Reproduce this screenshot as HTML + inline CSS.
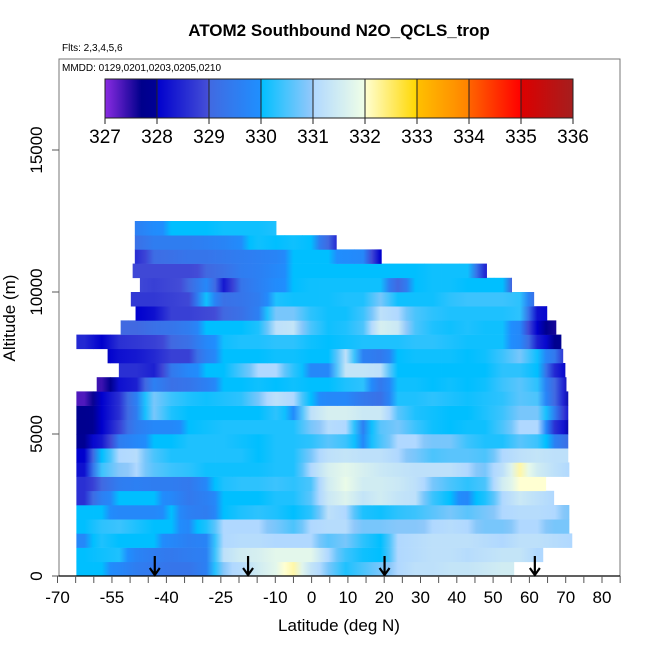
<!DOCTYPE html>
<html><head><meta charset="utf-8"><style>
body{margin:0;background:#fff;}
svg{display:block;font-family:"Liberation Sans",Arial,sans-serif;}
</style></head><body>
<svg id="chart" width="650" height="650" viewBox="0 0 650 650" xmlns="http://www.w3.org/2000/svg">
<defs id="defs"></defs>
<text x="339" y="36" text-anchor="middle" font-size="17" font-weight="bold">ATOM2 Southbound N2O_QCLS_trop</text>
<text x="62" y="51" font-size="10">Flts: 2,3,4,5,6</text>
<g id="heat"></g>
<g id="arrows"></g>
<rect x="59" y="59" width="561" height="517" fill="none" stroke="#777" stroke-width="1"/>
<text x="62" y="71" font-size="10">MMDD: 0129,0201,0203,0205,0210</text>
<g id="cbar"></g>
<g id="xaxis"></g>
<g id="yaxis"></g>
<text x="339" y="631" text-anchor="middle" font-size="17">Latitude (deg N)</text>
<text transform="translate(15,318) rotate(-90)" text-anchor="middle" font-size="17">Altitude (m)</text>
</svg>
<script>
const latBins = [-65,-60.2,-55.4,-50.6,-45.8,-41,-36.2,-31.4,-26.6,-21.8,-17,-12.2,-7.4,-2.6,2.2,7,11.8,16.6,21.4,26.2,31,35.8,40.6,45.4,50.2,55,59.8,64.6,69.4];
const binWidth = 4.8;
const altBase = [0,500,1000,1500,2000,2500,3000,3500,4000,4500,5000,5500,6000,6500,7000,7500,8000,8500,9000,9500,10000,10500,11000,11500,12000];
const altStep = 500;
const rowStart = [-64.8,-64.8,-64.8,-64.8,-64.8,-64.8,-64.8,-64.8,-64.8,-64.8,-64.8,-64.8,-64.8,-59.2,-53.1,-56.2,-64.8,-52.6,-48.5,-49.8,-47.3,-49.3,-48.7,-48.7,-48.7];
const rowEnd = [55.7,63.7,71.7,70.9,70.9,66.7,64.5,70.9,70.6,70.6,70.6,70.6,70.6,70.1,69.8,69.2,68.7,67.3,64.8,61.2,55.1,48.2,19.2,6.8,-9.8];
const r0 = [330,330,329.8,329.5,329.4,329.3,329.3,329.6,330.9,331.1,331.5,331.8,332.2,331.3,330.8,330.2,330.5,330.8,331.0,331.2,331.2,331.3,331.3,331.4,331.5,331.5,331.5,331.5,331.5];
const r1 = [330,330.1,330.2,329.7,329.5,329.4,329.5,329.6,331.2,331.5,331.6,331.8,331.8,331.8,331.0,330.4,330.1,330.0,331.0,331.1,331.2,331.2,331.1,331.2,331.3,331.3,331.0,331.0,331.0];
const r2 = [329.8,330.2,330.0,330.0,330.0,329.8,329.6,329.7,331.0,331.1,331.1,331.0,331.0,331.0,330.6,330.8,330.3,330.0,331.0,331.1,331.2,331.2,331.2,331.1,331.0,331.2,331.2,331.1,331.0];
const r3 = [330.0,330.3,330.4,330.2,330.0,330.0,329.8,330.2,331.0,331.0,331.0,330.8,330.5,331.0,331.1,331.1,330.8,330.8,330.9,330.9,331.0,331.1,331.0,330.8,330.8,331.0,331.0,330.8,330.8];
const r4 = [330.0,330.0,329.8,329.8,329.8,330.0,329.6,329.5,330.0,330.2,330.3,330.2,330.0,330.3,331.2,331.0,330.2,330.1,330.3,330.4,330.6,330.8,330.6,330.8,331.0,331.1,331.1,331.0,330.8];
const r5 = [328.6,329.6,330.0,330.0,330.0,329.8,329.4,329.6,330.0,330.0,330.0,330.2,330.2,330.6,331.4,331.7,331.3,331.5,331.3,331.2,330.4,330.0,329.8,330.2,331.0,331.4,331.2,331.0,331.0];
const r6 = [328.6,329.0,329.5,329.6,329.5,329.5,329.4,329.8,330.2,330.3,330.3,330.4,330.3,330.5,331.5,331.9,331.5,331.5,331.4,331.2,330.8,330.5,330.3,330.5,331.5,332.0,332.0,332.0,332.0];
const r7 = [328.2,330.4,330.9,331.0,330.6,330.4,330.3,330.1,330.1,330.1,330.1,330.2,330.2,331.0,331.6,331.8,331.6,331.4,331.3,331.2,331.2,331.2,331.0,330.8,331.2,332.2,331.5,331.2,331.0];
const r8 = [328.0,330.0,331.0,331.1,330.5,330.2,330.2,330.2,330.2,330.2,330.0,330.2,330.2,330.8,331.2,331.3,331.2,331.2,331.0,330.8,330.5,330.6,330.6,330.5,331.0,331.2,331.3,331.2,331.2];
const r9 = [327.9,328.3,329.5,329.8,330.0,330.0,330.2,330.2,330.2,330.1,330.0,330.2,330.2,330.3,330.6,330.4,329.8,330.5,331.0,331.0,330.8,330.8,330.4,330.2,330.2,330.6,330.4,329.6,329.0];
const r10 = [327.8,328.0,328.8,329.5,329.8,329.8,330.0,330.1,330.2,330.2,330.2,330.2,330.2,330.8,331.1,331.0,329.6,330.6,330.8,330.4,330.1,330.0,330.1,330.1,330.5,331.0,331.0,328.6,327.9];
const r11 = [327.8,328.0,328.6,329.5,330.8,330.2,330.0,330.0,330.0,330.0,330.0,330.3,329.9,331.2,331.6,331.6,331.4,331.4,330.6,330.2,330.1,330.0,330.0,330.2,330.4,330.8,330.8,329.5,328.0];
const r12 = [327.3,328.0,328.6,329.6,330.8,330.4,330.2,330.1,330.2,330.3,330.8,331.2,331.0,330.0,329.8,329.8,329.4,329.2,330.2,330.2,330.3,330.2,330.1,330.2,330.3,330.6,330.5,329.0,327.9];
const r13 = [327.4,327.4,328.2,328.4,329.6,329.2,329.3,329.6,330.0,330.0,330.1,330.0,330.1,330.0,330.0,330.2,330.3,329.4,330.1,330.1,330.0,330.1,330.0,330.1,330.4,330.6,330.3,329.0,327.9];
const r14 = [328.6,328.6,328.6,328.6,328.4,329.4,329.8,330.0,330.0,330.5,331.0,331.0,330.3,329.8,329.8,331.3,331.3,331.2,330.0,330.0,330.0,330.0,330.0,330.0,330.3,330.3,330.0,328.5,327.8];
const r15 = [327.9,327.9,328.2,328.3,328.5,328.8,328.8,329.6,330.0,330.0,330.0,330.1,330.1,330.0,330.0,331.2,329.6,329.4,330.0,330.1,330.1,330.1,330.0,330.1,330.4,330.8,330.1,329.4,328.0];
const r16 = [328.5,328.0,328.6,328.7,328.8,329.0,329.2,329.8,330.1,330.2,330.2,330.3,330.3,330.1,330.0,330.1,330.2,330.2,330.2,330.3,330.3,330.2,330.1,330.1,330.1,329.8,328.4,327.8,327.8];
const r17 = [329.0,329.0,329.0,329.0,329.2,329.3,329.5,330.0,330.0,330.0,330.2,331.2,331.3,330.5,330.1,330.2,330.5,331.6,331.4,330.5,330.2,330.1,330.2,330.1,330.1,329.8,328.0,327.6,327.5];
const r18 = [328.0,328.0,328.0,328.0,328.2,328.8,328.8,328.9,329.0,329.2,329.6,330.8,330.8,330.3,330.1,330.1,330.4,331.2,331.0,330.5,330.3,330.2,330.2,330.2,330.2,330.3,328.2,328.0,328.0];
const r19 = [328.7,328.7,328.7,328.7,328.7,328.8,328.9,330.1,329.2,329.3,329.5,330.2,330.1,330.1,330.1,330.2,330.2,330.8,330.1,330.1,330.1,330.3,330.4,330.4,330.4,330.3,329.0,329.0,329.0];
const r20 = [328.9,328.9,328.9,328.9,328.8,328.9,329.0,329.8,328.3,329.3,329.6,329.9,330.0,330.1,330.1,330.1,330.1,330.1,329.0,330.0,330.1,330.1,330.0,330.0,330.0,328.0,328.0,328.0,328.0];
const r21 = [328.9,328.9,328.9,328.9,328.9,328.9,328.9,329.0,329.2,329.5,329.6,329.8,330.0,330.0,330.0,330.0,330.0,330.0,330.0,330.0,330.1,330.1,330.1,328.5,328.5,328.5,328.5,328.5,328.5];
const r22 = [328.6,328.6,328.6,328.6,329.1,329.2,329.3,329.3,329.4,329.5,329.6,329.7,330.0,330.0,330.0,329.9,329.8,328.0,328.0,328.0,328.0,328.0,328.0,328.0,328.0,328.0,328.0,328.0,328.0];
const r23 = [329.2,329.2,329.2,329.2,329.5,329.5,329.5,329.6,329.7,329.9,330.1,330.0,330.1,330.0,329.0,328.0,328.0,328.0,328.0,328.0,328.0,328.0,328.0,328.0,328.0,328.0,328.0,328.0,328.0];
const r24 = [329.6,329.6,329.6,329.6,329.9,330.0,330.0,330.0,330.1,330.1,330.1,330.2,330.2,330.2,330.2,330.2,330.2,330.2,330.2,330.2,330.2,330.2,330.2,330.2,330.2,330.2,330.2,330.2,330.2];
const rows = [r0,r1,r2,r3,r4,r5,r6,r7,r8,r9,r10,r11,r12,r13,r14,r15,r16,r17,r18,r19,r20,r21,r22,r23,r24];
const arrowLats = [-43.2,-17.5,20.1,61.5];
const colorTicks = [327,328,329,330,331,332,333,334,335,336];
const xTickLabels = [-70,-55,-40,-25,-10,0,10,20,30,40,50,60,70,80];
const yTickLabels = [0,5000,10000,15000];

const NS = "http://www.w3.org/2000/svg";
const xs = lat => 311.6 + lat * 3.63;
const ys = alt => 576 - alt * 0.0284;
const stops = [
 [327,[138,43,226]],[327.7,[0,0,139]],[327.999,[0,0,150]],
 [328,[0,0,205]],[328.999,[70,80,215]],
 [329,[65,105,225]],[329.999,[30,144,255]],
 [330,[0,191,255]],[330.999,[150,200,250]],
 [331,[176,216,255]],[331.999,[240,255,230]],
 [332,[255,255,210]],[332.999,[255,215,0]],
 [333,[255,192,0]],[333.999,[255,130,0]],
 [334,[255,100,0]],[334.999,[255,0,0]],
 [335,[220,0,0]],[336,[165,30,30]]];
function col(v){
  if(v<=stops[0][0]) return 'rgb('+stops[0][1]+')';
  for(let i=1;i<stops.length;i++){
    if(v<=stops[i][0]){
      const a=stops[i-1],b=stops[i],t=(v-a[0])/(b[0]-a[0]);
      return 'rgb('+a[1].map((c,j)=>Math.round(c+(b[1][j]-c)*t)).join(',')+')';
    }
  }
  return 'rgb('+stops[stops.length-1][1]+')';
}
function mk(tag,attrs,parent){const e=document.createElementNS(NS,tag);for(const k in attrs)e.setAttribute(k,attrs[k]);parent.appendChild(e);return e;}

const defs=document.getElementById('defs');
const heat=document.getElementById('heat');
rows.forEach((vals,i)=>{
  const y0=ys(altBase[i]+altStep), y1=ys(altBase[i]);
  vals.forEach((v,k)=>{
    const a=Math.max(latBins[k],rowStart[i]), b=Math.min(latBins[k]+binWidth,rowEnd[i]);
    if(b<=a||v==null) return;
    const prev = k>0 ? vals[k-1] : v, next = k<vals.length-1 ? vals[k+1] : v;
    const id='g'+i+'_'+k;
    const g=mk('linearGradient',{id:id,gradientUnits:'userSpaceOnUse',x1:xs(latBins[k]),x2:xs(latBins[k]+binWidth),y1:0,y2:0},defs);
    mk('stop',{offset:0,'stop-color':col((prev+v)/2)},g);
    mk('stop',{offset:0.5,'stop-color':col(v)},g);
    mk('stop',{offset:1,'stop-color':col((v+next)/2)},g);
    const r=mk('rect',{x:xs(a),y:y0,width:xs(b)-xs(a)+0.4,height:y1-y0+0.3,fill:'url(#'+id+')'},heat);
    
    
  });
});

const arr=document.getElementById('arrows');
arrowLats.forEach(l=>{
  const x=xs(l);
  const p=mk('path',{d:`M${x},556 L${x},575 M${x-5},568 L${x},575 L${x+5},568`,stroke:'#000','stroke-width':2.2,fill:'none'},arr);
  
  
});

const cb=document.getElementById('cbar');
const cx=v=>105+(v-327)*52;
for(let i=0;i<colorTicks.length-1;i++){
  const v0=colorTicks[i];
  const g=mk('linearGradient',{id:'cg'+i,x1:0,x2:1,y1:0,y2:0},cb);
  for(let s=0;s<=10;s++){mk('stop',{offset:s/10,'stop-color':col(v0+s*0.0999)},g);}
  const r=mk('rect',{x:cx(v0),y:79,width:52,height:39,fill:'url(#cg'+i+')'},cb);
  
  
}
mk('rect',{x:105,y:79,width:468,height:39,fill:'none',stroke:'#222','stroke-width':1},cb);
colorTicks.forEach(v=>{
  mk('line',{x1:cx(v),x2:cx(v),y1:79,y2:124,stroke:'#222','stroke-width':1},cb);
  const t=mk('text',{x:cx(v),y:143,'text-anchor':'middle','font-size':19},cb);
  t.textContent=v;
  
  
});

const xa=document.getElementById('xaxis');
mk('line',{x1:58,x2:620,y1:576,y2:576,stroke:'#000','stroke-width':1.2},xa);
for(let l=-70;l<=85;l+=5){mk('line',{x1:xs(l),x2:xs(l),y1:576,y2:583,stroke:'#555','stroke-width':1},xa);}
xTickLabels.forEach(l=>{
  const t=mk('text',{x:xs(l),y:603,'text-anchor':'middle','font-size':17},xa);
  t.textContent=l;
  
  
});
const ya=document.getElementById('yaxis');
yTickLabels.forEach(a=>{
  mk('line',{x1:52,x2:59,y1:ys(a),y2:ys(a),stroke:'#555','stroke-width':1},ya);
  const t=mk('text',{transform:`translate(42,${ys(a)}) rotate(-90)`,'text-anchor':'middle','font-size':17},ya);
  t.textContent=a;
  
  
});
</script>
</body></html>
